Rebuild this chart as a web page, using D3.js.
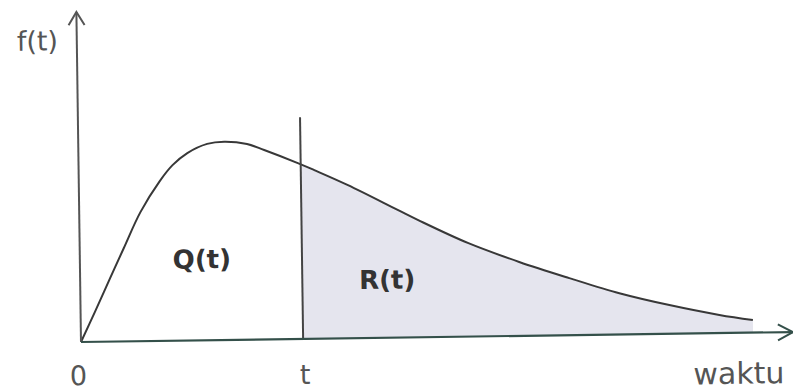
<!DOCTYPE html>
<html>
<head>
<meta charset="utf-8">
<script src="https://cdn.jsdelivr.net/npm/d3@7/dist/d3.min.js"></script>
<style>
  html, body { margin: 0; padding: 0; background: #ffffff; }
  svg { display: block; }
</style>
</head>
<body>
<svg id="chart" width="793" height="391"></svg>
<script>
// Density curve f(t) over time (waktu), sampled points
const timeValues = [0, 0.2, 0.41, 0.62, 0.86, 1.14, 1.32, 1.53, 1.81, 2.05, 2.37, 2.61,
                    3.08, 3.31, 3.78, 4.48, 4.76, 5.46, 6.17, 6.87, 7.57, 8.27, 8.97, 9.44];
const densityValues = [0, 0.090, 0.187, 0.283, 0.391, 0.485, 0.532, 0.568, 0.595, 0.601, 0.593, 0.574,
                       0.533, 0.511, 0.464, 0.386, 0.355, 0.283, 0.224, 0.173, 0.125, 0.087, 0.055, 0.038];
// Split time t separating Q(t) (failed) and R(t) (reliability)
const splitTime = 3.12;
const splitLineTop = 0.672;
// Axis extents
const xMax = 10;
const yMax = 1;
// Text labels
const axisLabels = { yName: "f(t)", xName: "waktu", origin: "0", split: "t" };
const areaLabels = ["Q(t)", "R(t)"];

const svg = d3.select("#chart");
const origin = { x: 81, y: 342 };
const xLen = 712, yLen = 330;

const x = d3.scaleLinear().domain([0, xMax]).range([0, xLen]);
const y = d3.scaleLinear().domain([0, yMax]).range([0, -yLen]);

const data = timeValues.map((t, i) => ({ t, f: densityValues[i] }));

const g = svg.append("g")
  .attr("transform", `translate(${origin.x},${origin.y}) rotate(-0.8)`);

// Shaded region under the curve for t > splitTime
g.append("clipPath").attr("id", "rightPart")
  .append("rect")
  .attr("x", x(splitTime)).attr("y", y(yMax))
  .attr("width", x(xMax) - x(splitTime)).attr("height", -y(yMax));

const area = d3.area()
  .x(d => x(d.t)).y0(y(0)).y1(d => y(d.f))
  .curve(d3.curveCatmullRom.alpha(0.5));

g.append("path")
  .datum(data)
  .attr("d", area)
  .attr("clip-path", "url(#rightPart)")
  .attr("fill", "#e5e5ee");

// Density curve
const line = d3.line()
  .x(d => x(d.t)).y(d => y(d.f))
  .curve(d3.curveCatmullRom.alpha(0.5));

g.append("path")
  .datum(data)
  .attr("d", line)
  .attr("fill", "none")
  .attr("stroke", "#383838")
  .attr("stroke-width", 2);

// Vertical line at t
g.append("line")
  .attr("x1", x(splitTime)).attr("x2", x(splitTime))
  .attr("y1", y(0)).attr("y2", y(splitLineTop))
  .attr("stroke", "#444")
  .attr("stroke-width", 2);

// Y axis with arrow
g.append("line")
  .attr("x1", x(0)).attr("x2", x(0))
  .attr("y1", y(0)).attr("y2", y(yMax))
  .attr("stroke", "#555").attr("stroke-width", 2);
g.append("path")
  .attr("d", `M${x(0) - 8},${y(yMax) + 13} L${x(0)},${y(yMax)} L${x(0) + 8},${y(yMax) + 13}`)
  .attr("fill", "none").attr("stroke", "#555").attr("stroke-width", 2);

// X axis with arrow
g.append("line")
  .attr("x1", x(0)).attr("x2", x(xMax))
  .attr("y1", y(0)).attr("y2", y(0))
  .attr("stroke", "#34504a").attr("stroke-width", 2.2);
g.append("path")
  .attr("d", `M${x(xMax) - 15},${y(0) - 8} L${x(xMax)},${y(0)} L${x(xMax) - 15},${y(0) + 8}`)
  .attr("fill", "none").attr("stroke", "#34504a").attr("stroke-width", 2);

// Labels
const font = "'DejaVu Sans', Verdana, sans-serif";
g.append("text")
  .attr("x", x(0) - 60).attr("y", y(0) - 292)
  .attr("font-family", font).attr("font-size", 27).attr("fill", "#555")
  .text(axisLabels.yName);
g.append("text")
  .attr("x", x(0) - 3).attr("y", 43)
  .attr("text-anchor", "middle")
  .attr("font-family", font).attr("font-size", 27).attr("fill", "#555")
  .text(axisLabels.origin);
g.append("text")
  .attr("x", x(splitTime) + 1.5).attr("y", 45)
  .attr("text-anchor", "middle")
  .attr("font-family", font).attr("font-size", 27).attr("fill", "#555")
  .text(axisLabels.split);
g.append("text")
  .attr("x", 703).attr("y", 51)
  .attr("text-anchor", "end")
  .attr("font-family", font).attr("font-size", 30).attr("fill", "#555")
  .text(axisLabels.xName);

g.append("text")
  .attr("x", 122).attr("y", -72)
  .attr("text-anchor", "middle")
  .attr("font-family", font).attr("font-size", 26).attr("font-weight", "bold").attr("fill", "#333")
  .text(areaLabels[0]);
g.append("text")
  .attr("x", 307).attr("y", -49)
  .attr("text-anchor", "middle")
  .attr("font-family", font).attr("font-size", 26).attr("font-weight", "bold").attr("fill", "#333")
  .text(areaLabels[1]);
</script>
</body>
</html>
